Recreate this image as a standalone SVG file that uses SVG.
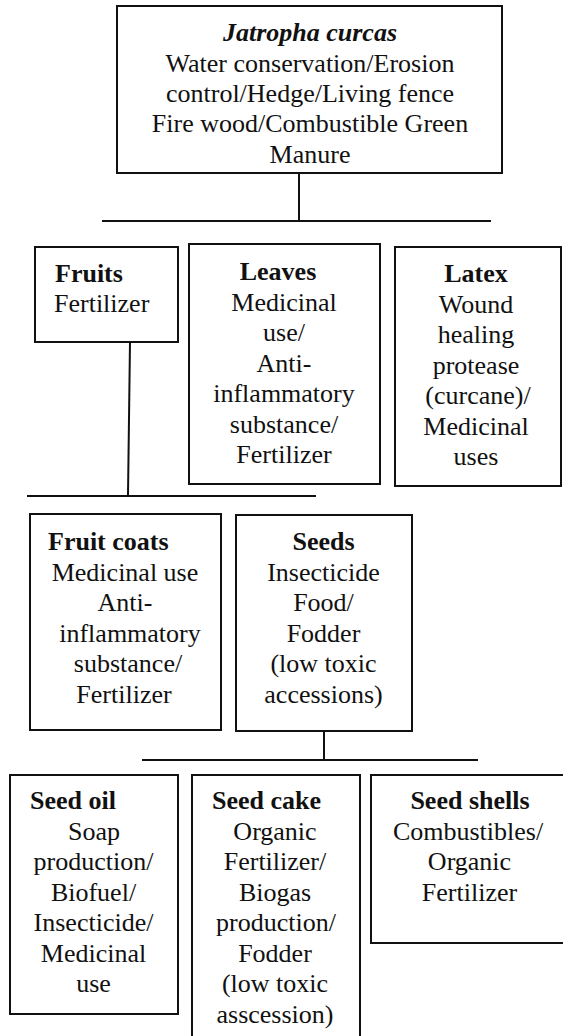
<svg xmlns="http://www.w3.org/2000/svg" width="563" height="1036" viewBox="0 0 563 1036">
<style>
.box{fill:#fff;stroke:#111;stroke-width:2}
.ln{stroke:#111;stroke-width:2;fill:none}
text{font-family:"Liberation Serif","Times New Roman",serif;font-size:26px;fill:#111}
.c{text-anchor:middle}
.b{font-weight:bold}
.bi{font-weight:bold;font-style:italic}
</style>
<rect width="563" height="1036" fill="#fff"/>
<g id="connectors">
<line class="ln" x1="299" y1="173" x2="299" y2="221"/>
<line class="ln" x1="102" y1="221" x2="491" y2="221"/>
<line class="ln" x1="130" y1="342" x2="128" y2="495"/>
<line class="ln" x1="27" y1="496" x2="316" y2="496"/>
<line class="ln" x1="324" y1="731" x2="324" y2="760"/>
<line class="ln" x1="142" y1="760" x2="478" y2="760"/>
</g>
<g id="jatropha">
<rect class="box" x="117" y="6" width="385" height="167"/>
<text class="c bi" x="310" y="41">Jatropha curcas</text>
<text class="c" x="310" y="72">Water conservation/Erosion</text>
<text class="c" x="310" y="102">control/Hedge/Living fence</text>
<text class="c" x="310" y="132">Fire wood/Combustible Green</text>
<text class="c" x="310" y="163">Manure</text>
</g>
<g id="fruits">
<rect class="box" x="35" y="247" width="143" height="95"/>
<text class="b" x="55" y="282">Fruits</text>
<text x="54" y="312">Fertilizer</text>
</g>
<g id="leaves">
<rect class="box" x="189" y="244" width="191" height="240"/>
<text class="c b" x="278" y="280">Leaves</text>
<text class="c" x="284" y="310.5">Medicinal</text>
<text class="c" x="284" y="341">use/</text>
<text class="c" x="284" y="371.5">Anti-</text>
<text class="c" x="284" y="402">inflammatory</text>
<text class="c" x="284" y="432.5">substance/</text>
<text class="c" x="284" y="463">Fertilizer</text>
</g>
<g id="latex">
<rect class="box" x="395" y="247" width="166" height="239"/>
<text class="c b" x="476" y="282">Latex</text>
<text class="c" x="476" y="312.5">Wound</text>
<text class="c" x="476" y="343">healing</text>
<text class="c" x="476" y="373.5">protease</text>
<text class="c" x="478" y="404">(curcane)/</text>
<text class="c" x="476" y="434.5">Medicinal</text>
<text class="c" x="476" y="465">uses</text>
</g>
<g id="fruitcoats">
<rect class="box" x="30" y="514" width="191" height="216"/>
<text class="b" x="48" y="550">Fruit coats</text>
<text class="c" x="125" y="580.5">Medicinal use</text>
<text class="c" x="125" y="611">Anti-</text>
<text class="c" x="130" y="641.5">inflammatory</text>
<text class="c" x="128" y="672">substance/</text>
<text class="c" x="124" y="702.5">Fertilizer</text>
</g>
<g id="seeds">
<rect class="box" x="236" y="515" width="176" height="216"/>
<text class="c b" x="323.5" y="550">Seeds</text>
<text class="c" x="323.5" y="580.5">Insecticide</text>
<text class="c" x="323.5" y="611">Food/</text>
<text class="c" x="323.5" y="641.5">Fodder</text>
<text class="c" x="323.5" y="672">(low toxic</text>
<text class="c" x="323.5" y="702.5">accessions)</text>
</g>
<g id="seedoil">
<rect class="box" x="10" y="775" width="168" height="239"/>
<text class="b" x="30" y="809">Seed oil</text>
<text class="c" x="94" y="839.5">Soap</text>
<text class="c" x="93.5" y="870">production/</text>
<text class="c" x="93.5" y="900.5">Biofuel/</text>
<text class="c" x="93.5" y="931">Insecticide/</text>
<text class="c" x="93.5" y="961.5">Medicinal</text>
<text class="c" x="93.5" y="992">use</text>
</g>
<g id="seedcake">
<rect class="box" x="192" y="775" width="168" height="275"/>
<text class="b" x="212" y="809">Seed cake</text>
<text class="c" x="275" y="839.5">Organic</text>
<text class="c" x="275" y="870">Fertilizer/</text>
<text class="c" x="275" y="900.5">Biogas</text>
<text class="c" x="276" y="931">production/</text>
<text class="c" x="275" y="961.5">Fodder</text>
<text class="c" x="275" y="992">(low toxic</text>
<text class="c" x="275" y="1022.5">asscession)</text>
</g>
<g id="seedshells">
<rect class="box" x="371" y="775" width="200" height="168"/>
<text class="c b" x="470" y="809">Seed shells</text>
<text class="c" x="468" y="839.5">Combustibles/</text>
<text class="c" x="469.5" y="870">Organic</text>
<text class="c" x="469.5" y="900.5">Fertilizer</text>
</g>
</svg>
